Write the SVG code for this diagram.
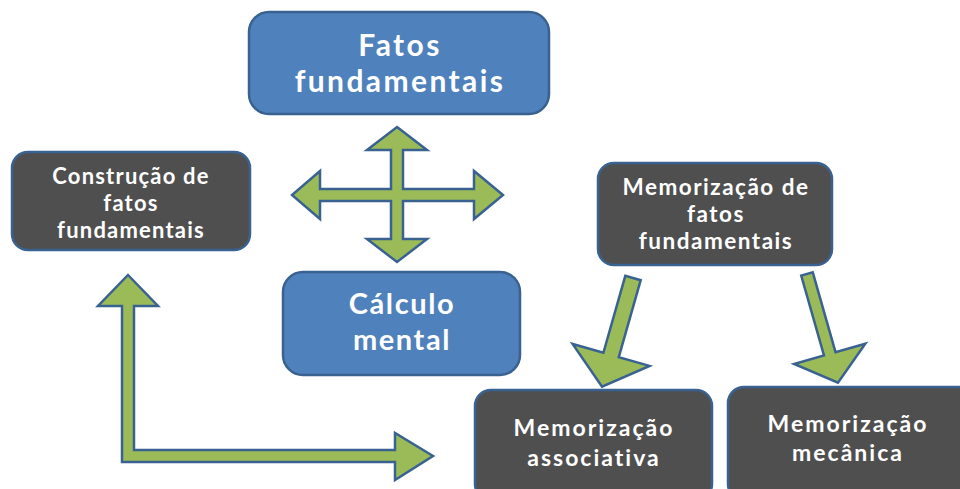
<svg xmlns="http://www.w3.org/2000/svg" width="960" height="489" viewBox="0 0 960 489">
<style>
.blue{fill:#4F81BD;stroke:#3A6291;stroke-width:2.5}
.dark{fill:#4F4F4F;stroke:#3A6291;stroke-width:2.5}
.arr{fill:#9BBB59;stroke:#3A6291;stroke-width:2.5;stroke-linejoin:miter}
text{font-family:Lato,"Open Sans","Liberation Sans",sans-serif;font-weight:bold;fill:#FFFFFF;text-anchor:middle}
.big{font-size:30px;letter-spacing:2.4px}
.cm{font-size:29px;letter-spacing:1.6px}
.sm{font-size:22px;letter-spacing:1.2px}
.md{font-size:22.5px;letter-spacing:1.5px}
.lg{font-size:23px;letter-spacing:2px}
</style>
<rect width="960" height="489" fill="#FFFFFF"/>
<g id="connectors">
<polygon class="arr" points="397,127 427,150 403,150 403,189 474,189 474,171 503,195 474,219 474,201 403,201 403,239 427,239 397,262 367,239 391,239 391,201 320,201 320,219 292,195 320,171 320,189 391,189 391,150 367,150"/>
<polygon class="arr" points="128,275 158,306 134,306 134,450 395,450 395,433 433,456 395,480 395,462 122,462 122,306 98,306"/>
<polygon class="arr" transform="translate(633,278) rotate(105.9)" points="0,-8 80,-8 80,-40 113,0 80,40 80,8 0,8"/>
<polygon class="arr" transform="translate(807,274) rotate(74.1)" points="0,-6 83,-6 83,-37 113,0 83,37 83,6 0,6"/>
</g>
<g id="fatos">
<rect class="blue" x="249" y="12" width="300" height="102" rx="20"/>
<text class="big" x="400" y="56">Fatos</text>
<text class="big" x="400" y="92">fundamentais</text>
</g>
<g id="construcao">
<rect class="dark" x="12" y="152" width="238" height="98" rx="16"/>
<text class="sm" x="131" y="184">Construção de</text>
<text class="sm" x="131" y="211">fatos</text>
<text class="sm" x="131" y="238">fundamentais</text>
</g>
<g id="calculo">
<rect class="blue" x="283" y="272" width="237" height="103" rx="20"/>
<text class="cm" x="402" y="314">Cálculo</text>
<text class="cm" x="402" y="350">mental</text>
</g>
<g id="memorizacao">
<rect class="dark" x="598" y="163" width="234" height="102" rx="16"/>
<text class="md" x="716" y="195">Memorização de</text>
<text class="md" x="716" y="222">fatos</text>
<text class="md" x="716" y="249">fundamentais</text>
</g>
<g id="associativa">
<rect class="dark" x="475" y="390" width="237" height="110" rx="16"/>
<text class="lg" x="594" y="436">Memorização</text>
<text class="lg" x="594" y="466">associativa</text>
</g>
<g id="mecanica">
<rect class="dark" x="728" y="387" width="250" height="113" rx="16"/>
<text class="lg" x="848" y="432">Memorização</text>
<text class="lg" x="848" y="461">mecânica</text>
</g>
</svg>
